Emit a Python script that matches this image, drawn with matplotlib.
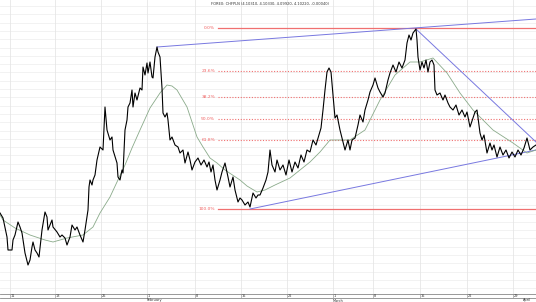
import matplotlib
matplotlib.use("Agg")
import matplotlib.pyplot as plt
import numpy as np

# ---------------- data ----------------
title = "FOREX: CHFPLN (4.10310, 4.10330, 4.09920, 4.10220, -0.00040)"

bar_x = [0, 3, 7, 8, 12, 13, 15, 18, 20, 22, 25, 28, 30, 32, 33, 35, 37, 39, 42, 45,
         47, 48, 52, 53, 57, 60, 62, 65, 67, 70, 72, 75, 77, 80, 83, 85, 87, 88, 89, 90,
         92, 93, 95, 97, 100, 103, 105, 107, 110, 112, 113, 117, 118, 120, 122, 123, 125, 127, 128, 130,
         132, 133, 135, 137, 140, 142, 143, 145, 147, 148, 150, 152, 153, 155, 157, 158, 160, 162, 163, 165,
         167, 168, 170, 172, 175, 178, 180, 183, 185, 188, 190, 192, 195, 198, 201, 204, 207, 209, 211, 213,
         215, 217, 220, 222, 225, 228, 230, 233, 235, 238, 240, 242, 245, 248, 250, 253, 256, 258, 260, 263,
         266, 268, 270, 272, 275, 277, 280, 283, 286, 289, 292, 295, 298, 301, 304, 307, 310, 313, 316, 319,
         321, 323, 325, 327, 329, 331, 333, 335, 337, 340, 343, 345, 348, 350, 352, 355, 358, 360, 363, 365,
         368, 370, 373, 375, 378, 380, 383, 385, 388, 390, 393, 396, 399, 402, 405, 407, 409, 411, 413, 416,
         417, 418, 420, 422, 424, 426, 428, 430, 432, 434, 435, 437, 440, 443, 445, 448, 450, 453, 456, 459,
         462, 465, 467, 470, 473, 475, 477, 480, 482, 484, 487, 490, 492, 494, 497, 500, 503, 506, 509, 512,
         515, 518, 521, 524, 527, 530, 533, 536]
close = [4.087, 4.082, 4.063, 4.050, 4.050, 4.060, 4.065, 4.078, 4.073, 4.067, 4.047, 4.035, 4.040, 4.053, 4.058, 4.050, 4.047, 4.043, 4.070, 4.088,
         4.083, 4.070, 4.080, 4.073, 4.068, 4.063, 4.065, 4.062, 4.055, 4.063, 4.075, 4.070, 4.073, 4.065, 4.058, 4.070, 4.083, 4.090, 4.113, 4.120,
         4.115, 4.120, 4.125, 4.140, 4.153, 4.150, 4.193, 4.170, 4.160, 4.163, 4.150, 4.137, 4.123, 4.120, 4.130, 4.127, 4.170, 4.180, 4.193, 4.197,
         4.210, 4.193, 4.207, 4.200, 4.212, 4.210, 4.233, 4.225, 4.237, 4.227, 4.238, 4.223, 4.222, 4.243, 4.253, 4.248, 4.243, 4.212, 4.187, 4.183,
         4.187, 4.180, 4.160, 4.163, 4.155, 4.153, 4.147, 4.150, 4.137, 4.148, 4.140, 4.130, 4.138, 4.142, 4.135, 4.140, 4.133, 4.138, 4.128, 4.135,
         4.120, 4.110, 4.120, 4.128, 4.137, 4.123, 4.113, 4.123, 4.110, 4.098, 4.102, 4.100, 4.095, 4.098, 4.093, 4.107, 4.102, 4.105, 4.105, 4.112,
         4.120, 4.128, 4.150, 4.135, 4.128, 4.140, 4.130, 4.135, 4.125, 4.140, 4.128, 4.138, 4.132, 4.145, 4.138, 4.150, 4.148, 4.160, 4.155, 4.165,
         4.172, 4.190, 4.210, 4.228, 4.232, 4.228, 4.205, 4.182, 4.185, 4.170, 4.158, 4.150, 4.160, 4.150, 4.160, 4.162, 4.175, 4.185, 4.178, 4.190,
         4.200, 4.208, 4.215, 4.222, 4.212, 4.208, 4.203, 4.207, 4.220, 4.227, 4.235, 4.228, 4.238, 4.232, 4.240, 4.257, 4.265, 4.260, 4.267, 4.271,
         4.260, 4.243, 4.230, 4.238, 4.232, 4.240, 4.228, 4.238, 4.240, 4.235, 4.210, 4.205, 4.207, 4.200, 4.205, 4.197, 4.193, 4.190, 4.195, 4.185,
         4.190, 4.183, 4.188, 4.173, 4.182, 4.188, 4.190, 4.167, 4.160, 4.165, 4.147, 4.157, 4.150, 4.155, 4.143, 4.153, 4.145, 4.150, 4.142, 4.148,
         4.143, 4.150, 4.145, 4.152, 4.162, 4.150, 4.153, 4.155]

ma_x = [0, 3, 15, 30, 45, 53, 67, 83, 93, 100, 110, 117, 125, 132, 140, 150, 160, 167, 172, 177,
        187, 197, 203, 210, 217, 225, 240, 247, 257, 265, 275, 290, 300, 310, 320, 330, 340, 350, 365, 380,
        395, 410, 420, 433, 447, 460, 473, 493, 513, 527, 536]
ma = [4.085, 4.080, 4.072, 4.065, 4.060, 4.058, 4.062, 4.065, 4.073, 4.087, 4.103, 4.118, 4.135, 4.152, 4.170, 4.192, 4.207, 4.215, 4.214, 4.210,
      4.193, 4.163, 4.153, 4.142, 4.137, 4.130, 4.120, 4.114, 4.108, 4.110, 4.115, 4.122, 4.130, 4.138, 4.148, 4.160, 4.160, 4.160, 4.170, 4.200,
      4.225, 4.238, 4.238, 4.242, 4.227, 4.207, 4.190, 4.170, 4.157, 4.147, 4.150]

fib_levels = [0.0, 23.6, 38.2, 50.0, 61.8, 100.0]
fib_high = 4.272
fib_low = 4.091

trend_upper = ([157, 536], [4.253, 4.281])
trend_lower = ([250, 536], [4.091, 4.150])
trend_down = ([416, 536], [4.271, 4.158])

tick_pos = [10, 55, 101, 147, 195, 241, 287, 333, 373, 420, 467, 513]
tick_lab = ["11", "18", "25", "1", "8", "15", "22", "1", "8", "15", "22", "29"]
month_pos = [147, 333, 523]
month_lab = ["February", "March", "April"]

# ---------------- figure ----------------
W, H = 536, 302
fig = plt.figure(figsize=(W / 100, H / 100), dpi=100)
ax = fig.add_axes([0, 8 / H, 1, 1 - 8 / H])
ax.set_xlim(0, 536)
ax.set_ylim(4.006, 4.300)
for s in ax.spines.values():
    s.set_visible(False)
ax.set_xticks([])
ax.set_yticks([])

# grid
for yv in np.arange(4.294, 4.006, -0.0083):
    ax.axhline(yv, color="#f0f0f0", lw=0.6, zorder=0)
for xv in tick_pos:
    ax.axvline(xv, color="#e6e6e6", lw=0.6, zorder=0)

# fibonacci
rng = fib_high - fib_low
for lv in fib_levels:
    yv = fib_high - rng * lv / 100.0
    if lv in (0.0, 100.0):
        ax.plot([218, 536], [yv, yv], color="#f07070", lw=0.9, ls="-", zorder=2)
    else:
        ax.plot([218, 536], [yv, yv], color="#f07070", lw=0.8, ls=(0, (1, 1.5)), zorder=2)
    ax.text(215, yv, f"{lv:.1f}%", color="#f06060", fontsize=3.2,
            ha="right", va="center", zorder=3)

# trend lines
for xs, ys in (trend_upper, trend_lower, trend_down):
    ax.plot(xs, ys, color="#7878e0", lw=0.7, zorder=2)

# moving average and price
ax.plot(ma_x, ma, color="#8aaa8a", lw=0.6, zorder=3)
ax.plot(bar_x, close, color="black", lw=0.8, zorder=4)

fig.text(270 / W, 1 - 4 / H, title, fontsize=2.6, ha="center", va="center", color="#333333")

# date band
bx = fig.add_axes([0, 4 / H, 1, 4 / H])
bx.set_xlim(0, 536)
bx.set_ylim(0, 1)
bx.set_xticks([])
bx.set_yticks([])
bx.patch.set_alpha(0)
for s in ("left", "right"):
    bx.spines[s].set_visible(False)
for s in ("top", "bottom"):
    bx.spines[s].set_color("#888888")
    bx.spines[s].set_linewidth(0.6)
for p, l in zip(tick_pos, tick_lab):
    bx.plot([p, p], [0, 1], color="#888888", lw=0.4)
    bx.text(p + 1, 0.5, l, fontsize=2.5, ha="left", va="center", color="#333333")
for p, l in zip(month_pos, month_lab):
    fig.text(p / W, 1.5 / H, l, fontsize=2.5, ha="left", va="center", color="#333333")

fig.savefig("out.png", dpi=100)
